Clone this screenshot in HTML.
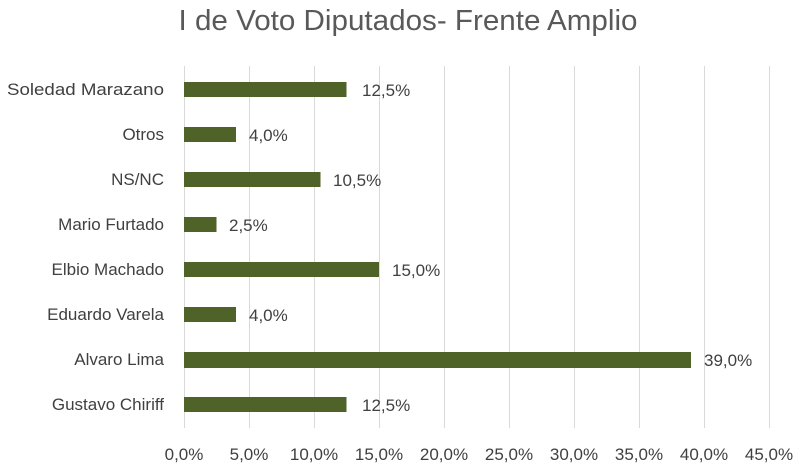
<!DOCTYPE html>
<html><head><meta charset="utf-8"><style>body{margin:0;background:#fff}svg{display:block}</style></head>
<body>
<svg width="800" height="467" xmlns="http://www.w3.org/2000/svg" font-family="Liberation Sans, sans-serif">
<rect width="800" height="467" fill="#fff"/>
<text x="408" y="30" text-anchor="middle" font-size="29" fill="#595959" textLength="459" lengthAdjust="spacingAndGlyphs">I de Voto Diputados- Frente Amplio</text>
<g stroke="#d9d9d9" stroke-width="1">
<line x1="184.5" y1="66" x2="184.5" y2="428"/><line x1="249.5" y1="66" x2="249.5" y2="428"/><line x1="314.5" y1="66" x2="314.5" y2="428"/><line x1="379.5" y1="66" x2="379.5" y2="428"/><line x1="444.5" y1="66" x2="444.5" y2="428"/><line x1="509.5" y1="66" x2="509.5" y2="428"/><line x1="574.5" y1="66" x2="574.5" y2="428"/><line x1="639.5" y1="66" x2="639.5" y2="428"/><line x1="704.5" y1="66" x2="704.5" y2="428"/><line x1="769.5" y1="66" x2="769.5" y2="428"/>
</g>
<g fill="#4f6228">
<rect x="184" y="82" width="162.5" height="15"/>
<rect x="184" y="127" width="52" height="15"/>
<rect x="184" y="172" width="136.5" height="15"/>
<rect x="184" y="217" width="32.5" height="15"/>
<rect x="184" y="262" width="195" height="15"/>
<rect x="184" y="307" width="52" height="15"/>
<rect x="184" y="352" width="507" height="16"/>
<rect x="184" y="397" width="162.5" height="15"/>
</g>
<g font-size="17" fill="#404040" text-anchor="end">
<text x="164" y="95" textLength="157" lengthAdjust="spacingAndGlyphs">Soledad Marazano</text>
<text x="164" y="140">Otros</text>
<text x="164" y="185">NS/NC</text>
<text x="164" y="230">Mario Furtado</text>
<text x="164" y="275">Elbio Machado</text>
<text x="164" y="320">Eduardo Varela</text>
<text x="164" y="365">Alvaro Lima</text>
<text x="164" y="410">Gustavo Chiriff</text>
</g>
<g font-size="17" fill="#404040">
<text x="362" y="96">12,5%</text>
<text x="249" y="141">4,0%</text>
<text x="333" y="186">10,5%</text>
<text x="229" y="231">2,5%</text>
<text x="392" y="276">15,0%</text>
<text x="249" y="321">4,0%</text>
<text x="704" y="366">39,0%</text>
<text x="362" y="411">12,5%</text>
</g>
<g font-size="17" fill="#404040" text-anchor="middle">
<text x="184" y="460">0,0%</text><text x="249" y="460">5,0%</text><text x="314" y="460">10,0%</text><text x="379" y="460">15,0%</text><text x="444" y="460">20,0%</text><text x="509" y="460">25,0%</text><text x="574" y="460">30,0%</text><text x="639" y="460">35,0%</text><text x="704" y="460">40,0%</text><text x="769" y="460">45,0%</text>
</g>
</svg>
</body></html>
